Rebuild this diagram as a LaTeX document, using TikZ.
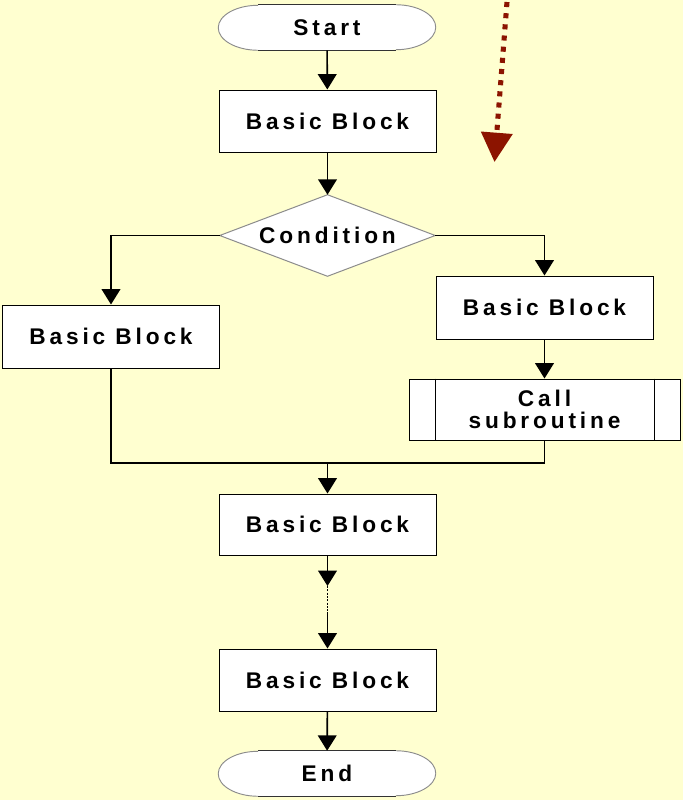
\documentclass[tikz,border=0pt]{standalone}
\usepackage{fontspec}
\newfontfamily\lblfont{Liberation Sans}[LetterSpace=17]
\usetikzlibrary{arrows.meta}
\pgfdeclarelayer{bg}
\pgfdeclarelayer{shp}
\pgfsetlayers{bg,shp,main}
\definecolor{paper}{RGB}{255,255,208}
\definecolor{hint}{RGB}{140,20,0}
\tikzset{
  lbl/.style={font=\lblfont\bfseries\fontsize{17}{16.5}\selectfont, text=black},
  blockbox/.style={lbl, draw=black, line width=0.75pt, fill=white,
    minimum width=217*0.75pt, minimum height=62*0.75pt, inner sep=0pt},
  terminal/.style={lbl, draw=none, minimum width=217*0.75pt,
    minimum height=45*0.75pt, inner sep=0pt},
  decision/.style={lbl, draw=none, minimum width=215*0.75pt,
    minimum height=81*0.75pt, inner sep=0pt},
  subcall/.style={lbl, draw=black, line width=0.75pt, fill=white, align=center,
    minimum width=271*0.75pt, minimum height=61*0.75pt, inner sep=0pt},
  flow/.style={line width=1.2pt, black},
  arr/.style={flow, -{Triangle[length=11.5pt,width=14pt]}},
}
\begin{document}
\begin{tikzpicture}[x=0.75pt,y=-0.75pt]
\useasboundingbox (0,0) rectangle (683,800);
\begin{pgfonlayer}{bg}
  \fill[paper] (0,0) rectangle (683,800);
\end{pgfonlayer}

% main column
\node[terminal] (start) at (327,27.5) {Start};
\node[blockbox] (bb1) at (327.5,121) {Basic Block};
\node[decision] (cond) at (327.5,235.5) {Condition};
\node[blockbox, minimum height=63*0.75pt] (bbl) at (111,336.5) {Basic Block};
\node[blockbox, minimum height=63*0.75pt] (bbr) at (544.5,307.5) {Basic Block};
\node[subcall] (call) at (544.5,409.5) {Call\\subroutine};
\node[blockbox, minimum height=61*0.75pt] (bb3) at (327.5,524.5) {Basic Block};
\node[blockbox] (bb4) at (327.5,680) {Basic Block};
\node[terminal] (endn) at (327,773.5) {End};

\begin{pgfonlayer}{shp}
  % diamond outline of the decision
  \draw[black!45, line width=0.75pt, fill=white]
    (cond.north) -- (cond.east) -- (cond.south) -- (cond.west) -- cycle;
  % stadium outlines of the terminals
  \foreach \t in {start,endn}{
    \fill[white] ([xshift=40*0.75pt]\t.north west) -- ([xshift=-40*0.75pt]\t.north east)
      arc[start angle=90,end angle=-90,x radius=40*0.75pt,y radius=22.5*0.75pt]
      -- ([xshift=40*0.75pt]\t.south west)
      arc[start angle=270,end angle=90,x radius=40*0.75pt,y radius=22.5*0.75pt] -- cycle;
    \draw[black!45, line width=0.7pt] ([xshift=-40*0.75pt]\t.north east)
      arc[start angle=90,end angle=-90,x radius=40*0.75pt,y radius=22.5*0.75pt];
    \draw[black!45, line width=0.7pt] ([xshift=40*0.75pt]\t.south west)
      arc[start angle=270,end angle=90,x radius=40*0.75pt,y radius=22.5*0.75pt];
    \draw[black!80, line width=0.8pt] ([xshift=40*0.75pt]\t.north west) -- ([xshift=-40*0.75pt]\t.north east);
    \draw[black!80, line width=0.8pt] ([xshift=40*0.75pt]\t.south west) -- ([xshift=-40*0.75pt]\t.south east);
  }
\end{pgfonlayer}

% side bars of the subroutine box
\draw[line width=0.75pt] ([xshift=27*0.75pt]call.north west) -- ([xshift=27*0.75pt]call.south west);
\draw[line width=0.75pt] ([xshift=-26*0.75pt]call.north east) -- ([xshift=-26*0.75pt]call.south east);

% connectors
\draw[arr] (start) -- (bb1);
\draw[arr] (bb1) -- (cond);
\draw[arr] (cond.west) -| (bbl);
\draw[arr] (cond.east) -| (bbr);
\draw[arr] (bbr) -- (call);
\coordinate (merge) at (327.5,463);
\draw[flow] (bbl.south) |- (merge);
\draw[flow] (call.south) |- (merge);
\draw[arr] (merge) -- (bb3);
\coordinate (gapA) at (327.5,586);
\coordinate (gapB) at (327.5,612);
\draw[arr] (bb3) -- (gapA);
\draw[flow, dash pattern=on 1.5pt off 1pt] (gapA) -- (gapB);
\draw[arr] (gapB) -- (bb4);
\draw[arr] (bb4) -- (endn);

% dotted pointer
\coordinate (hintA) at (507,2);
\coordinate (hintB) at (494.5,162);
\draw[hint, line width=3.8pt, dash pattern=on 3.8pt off 4.6pt,
  -{Triangle[length=22pt,width=23pt]}] (hintA) -- (hintB);
\end{tikzpicture}
\end{document}
